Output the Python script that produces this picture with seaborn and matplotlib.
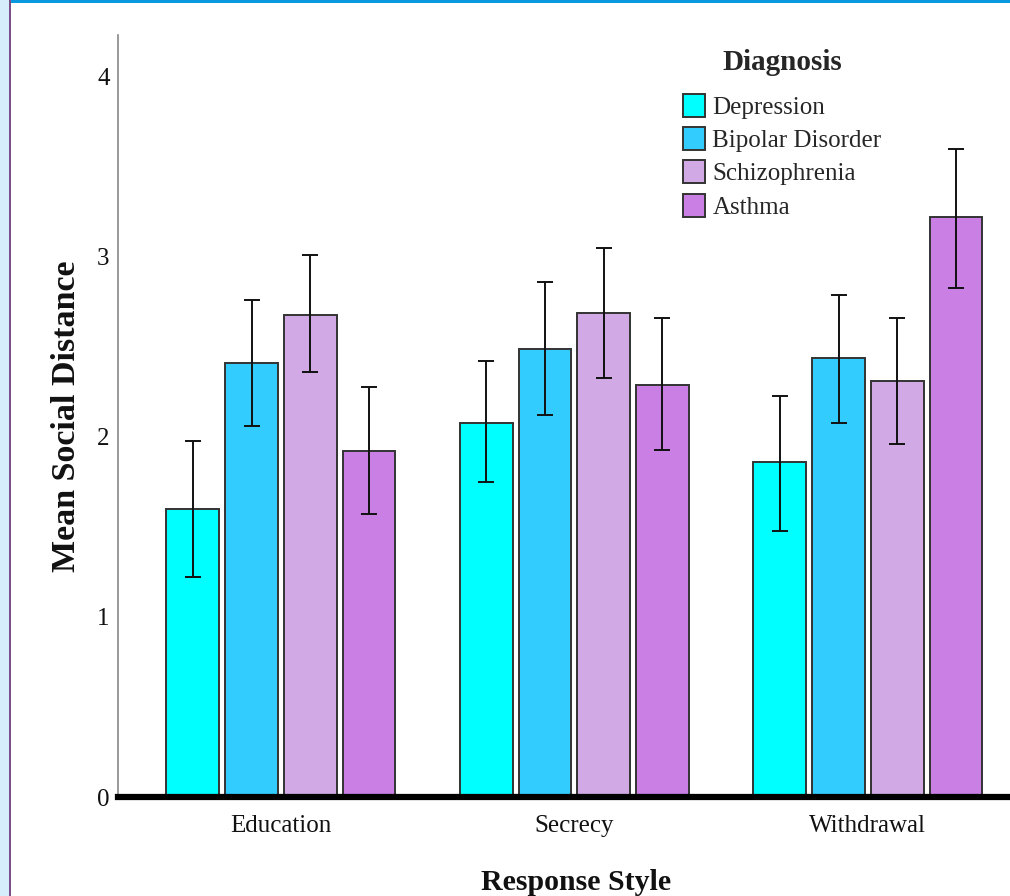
import numpy as np
import pandas as pd
import matplotlib
matplotlib.use("Agg")
import matplotlib.pyplot as plt
import seaborn as sns
from matplotlib.patches import Rectangle

# ---- data ----
styles = ["Education", "Secrecy", "Withdrawal"]
diagnoses = ["Depression", "Bipolar Disorder", "Schizophrenia", "Asthma"]

depression = [1.60, 2.08, 1.86]
bipolar = [2.41, 2.49, 2.44]
schizophrenia = [2.68, 2.69, 2.31]
asthma = [1.92, 2.29, 3.22]

depression_lo = [1.22, 1.75, 1.48]
depression_hi = [1.98, 2.42, 2.23]
bipolar_lo = [2.06, 2.12, 2.08]
bipolar_hi = [2.76, 2.86, 2.79]
schizophrenia_lo = [2.36, 2.33, 1.96]
schizophrenia_hi = [3.01, 3.05, 2.66]
asthma_lo = [1.57, 1.93, 2.83]
asthma_hi = [2.28, 2.66, 3.60]

yticks = [0, 1, 2, 3, 4]

colors = ["#00FFFF", "#33CCFF", "#D1A9E5", "#C97FE4"]

means = [depression, bipolar, schizophrenia, asthma]
lows = [depression_lo, bipolar_lo, schizophrenia_lo, asthma_lo]
highs = [depression_hi, bipolar_hi, schizophrenia_hi, asthma_hi]

rows = []
for d, m, lo, hi in zip(diagnoses, means, lows, highs):
    for s, v, l, h in zip(styles, m, lo, hi):
        rows.append({"Response Style": s, "Diagnosis": d, "mean": v, "lo": l, "hi": h})
df = pd.DataFrame(rows)

# ---- style ----
sns.set_theme(style="white")
plt.rcParams["font.family"] = ["Liberation Serif", "DejaVu Serif"]

W, H = 1010, 896
fig = plt.figure(figsize=(W / 100, H / 100), dpi=100)
fig.patch.set_facecolor("white")

ax = fig.add_axes([118 / W, 1 - 797 / H, (W - 118) / W, (797 - 35) / H])

sns.barplot(
    data=df, x="Response Style", y="mean", hue="Diagnosis",
    order=styles, hue_order=diagnoses, palette=colors,
    errorbar=None, width=0.8, gap=0.1,
    edgecolor="#333333", linewidth=1.4, saturation=1, ax=ax,
)

bar_conts = list(ax.containers)

# error bars from the table, placed at the library's bar positions
for i, cont in enumerate(bar_conts):
    d = diagnoses[i]
    for bar in cont:
        xc = bar.get_x() + bar.get_width() / 2
        j = int(round(xc))
        row = df[(df["Diagnosis"] == d) & (df["Response Style"] == styles[j])].iloc[0]
        ax.errorbar(
            xc, row["mean"],
            yerr=[[row["mean"] - row["lo"]], [row["hi"] - row["mean"]]],
            fmt="none", ecolor="#111111", elinewidth=1.4, capsize=6, capthick=1.4,
            zorder=5,
        )

ax.set_xlim(-0.555, 2.484)
ax.set_ylim(0, 4.233)
ax.set_yticks(yticks)
ax.set_yticklabels([str(t) for t in yticks])

for s in ["top", "right"]:
    ax.spines[s].set_visible(False)
ax.spines["left"].set_color("#888888")
ax.spines["left"].set_linewidth(1.2)
ax.spines["bottom"].set_color("black")
ax.spines["bottom"].set_linewidth(4.5)

ax.tick_params(axis="both", length=0, labelsize=18, colors="#111111")
ax.tick_params(axis="x", pad=13)
ax.tick_params(axis="y", pad=6)

ax.set_xlabel("Response Style", fontsize=21.5, fontweight="bold", color="#111111")
ax.xaxis.set_label_coords((576 - 118) / 892, -(869 - 797) / 762)
ax.set_ylabel("Mean Social Distance", fontsize=24.5, fontweight="bold", labelpad=11, color="#111111")

# legend
handles = [cont.patches[0] for cont in bar_conts]
if ax.get_legend() is not None:
    ax.get_legend().remove()
leg = ax.legend(
    handles, diagnoses, title="Diagnosis", frameon=False,
    loc="upper left", bbox_to_anchor=(670 / W, 1 - 36 / H), bbox_transform=fig.transFigure,
    fontsize=18, title_fontproperties={"weight": "bold", "size": 21},
    handlelength=0.9, handleheight=1.05, handletextpad=0.3, labelspacing=0.33,
    borderpad=0.0,
)
leg._legend_box.sep = 13

# page decorations (screenshot frame)
fig.patches.append(Rectangle((0, 1 - 3 / H), 1, 3 / H, transform=fig.transFigure,
                             facecolor="#0A98DE", edgecolor="none", zorder=10))
fig.patches.append(Rectangle((0, 0), 9 / W, 1, transform=fig.transFigure,
                             facecolor="#D6EEFB", edgecolor="none", zorder=10))
fig.patches.append(Rectangle((9 / W, 0), 2 / W, 1, transform=fig.transFigure,
                             facecolor="#7B4F8A", edgecolor="none", zorder=10))

fig.savefig("out.png", dpi=100)
